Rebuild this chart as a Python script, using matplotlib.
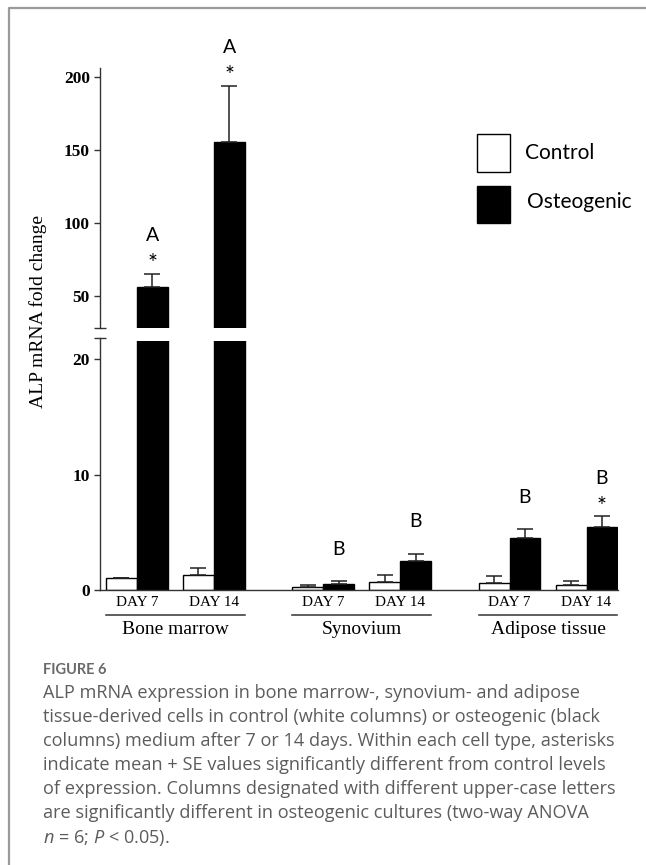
import matplotlib
matplotlib.use("Agg")
import matplotlib.pyplot as plt
import matplotlib.transforms as mtransforms
from matplotlib.patches import Rectangle
from matplotlib.lines import Line2D
import numpy as np

# ---------------- data ----------------
tissues = ["Bone marrow", "Synovium", "Adipose tissue"]
days = ["DAY 7", "DAY 14"]
control_mean = [1.0, 1.3, 0.3, 0.7, 0.65, 0.4]
control_se = [0.0, 0.6, 0.12, 0.63, 0.6, 0.37]
osteo_mean = [56.0, 155.4, 0.5, 2.55, 4.5, 5.5]
osteo_se = [9.0, 38.5, 0.25, 0.6, 0.75, 0.9]
letters = ["A", "A", "B", "B", "B", "B"]
asterisk = [True, True, False, False, False, True]
upper_ticks = [50, 100, 150, 200]
lower_ticks = [0, 10, 20]
legend_labels = ["Control", "Osteogenic"]
ylabel = "ALP mRNA fold change"
caption_title = "FIGURE 6"
caption_lines = [
    "ALP mRNA expression in bone marrow-, synovium- and adipose",
    "tissue-derived cells in control (white columns) or osteogenic (black",
    "columns) medium after 7 or 14 days. Within each cell type, asterisks",
    "indicate mean + SE values significantly different from control levels",
    "of expression. Columns designated with different upper-case letters",
    "are significantly different in osteogenic cultures (two-way ANOVA",
    r"$n$ = 6; $P$ < 0.05).",
]

# ---------------- layout ----------------
W, H = 646, 865
fig = plt.figure(figsize=(W / 100, H / 100), dpi=100)
plt.rcParams["mathtext.fontset"] = "custom"
plt.rcParams["mathtext.it"] = "Open Sans:italic"
plt.rcParams["mathtext.rm"] = "Open Sans"


def fx(x):
    return x / W


def fy(y):
    return 1 - y / H


serif = ["Liberation Serif", "DejaVu Serif"]
sans = ["Lato", "DejaVu Sans"]
cap_font = ["Open Sans", "DejaVu Sans"]

ax_left, ax_right = 100, 617.7
ax_up = fig.add_axes([fx(ax_left), fy(327.7), (ax_right - ax_left) / W, (327.7 - 67.7) / H])
ax_lo = fig.add_axes([fx(ax_left), fy(590), (ax_right - ax_left) / W, (590 - 340.7) / H])
ax_up.set_ylim(28.1, 206.2)
ax_lo.set_ylim(0, 21.61)

n_grp = len(tissues)
group_step = 2.42
w = 0.40
x = np.array([g * group_step + d for g in range(n_grp) for d in range(len(days))])
xlim = (-0.478, x[-1] + w + 0.005)

for ax in (ax_up, ax_lo):
    ax.set_xlim(*xlim)
    ax.bar(x - w / 2, control_mean, w, color="white", edgecolor="black", linewidth=1.0, zorder=2)
    ax.bar(x + w / 2, osteo_mean, w, color="black", edgecolor="black", linewidth=1.0, zorder=2)
    ax.errorbar(x - w / 2, control_mean, yerr=[np.zeros(len(x)), control_se], fmt="none",
                ecolor="#222222", elinewidth=1.1, capsize=5.5, capthick=1.1, zorder=3)
    ax.errorbar(x + w / 2, osteo_mean, yerr=[np.zeros(len(x)), osteo_se], fmt="none",
                ecolor="#222222", elinewidth=1.1, capsize=5.5, capthick=1.1, zorder=3)
    for s in ("top", "right"):
        ax.spines[s].set_visible(False)
    ax.spines["left"].set_color("#333333")
    ax.spines["left"].set_linewidth(1.0)
    ax.set_xticks([])
    ax.tick_params(axis="y", direction="out", length=4.3, width=1.0, pad=3, color="#333333")
    ax.patch.set_alpha(0)

ax_up.spines["bottom"].set_visible(False)
ax_lo.spines["bottom"].set_color("#333333")
ax_lo.spines["bottom"].set_linewidth(1.0)
ax_up.set_yticks(upper_ticks)
ax_lo.set_yticks(lower_ticks)
for ax in (ax_up, ax_lo):
    for lab in ax.get_yticklabels():
        lab.set_fontfamily(serif)
        lab.set_fontweight("bold")
        lab.set_fontsize(12.5)

# break markers
lo_top = 21.87
ax_lo.spines["left"].set_bounds(0, lo_top)
ax_up.plot([xlim[0]], [ax_up.get_ylim()[0]], marker="_", markersize=8, color="#333333",
           mew=1.0, clip_on=False)
ax_lo.plot([xlim[0]], [lo_top], marker="_", markersize=8, color="#333333", mew=1.0, clip_on=False)

# letters and asterisks
for i in range(len(x)):
    top = osteo_mean[i] + osteo_se[i]
    ax = ax_up if top > ax_lo.get_ylim()[1] else ax_lo
    xc = x[i] + w / 2
    if asterisk[i]:
        ax.annotate("*", (xc, top), xytext=(0, 10), textcoords="offset pixels", ha="center",
                    va="center", fontsize=17, family=sans, annotation_clip=False)
        off = 38
    else:
        off = 32
    ax.annotate(letters[i], (xc, top), xytext=(0, off), textcoords="offset pixels", ha="center",
                va="center", fontsize=14, family=sans, annotation_clip=False)

# x labels
blend = mtransforms.blended_transform_factory(ax_lo.transData, fig.transFigure)
for i in range(len(x)):
    ax_lo.text(x[i], fy(602), days[i % len(days)], transform=blend, ha="center", va="center",
               fontsize=11, family=serif)
for g in range(n_grp):
    x0 = x[2 * g] - w
    x1 = x[2 * g + 1] + w
    ax_lo.add_line(Line2D([x0, x1], [fy(615), fy(615)], transform=blend, color="#333333",
                          lw=1.1, clip_on=False))
    ax_lo.text((x0 + x1) / 2, fy(629.5), tissues[g], transform=blend, ha="center", va="center",
               fontsize=14, family=serif)

fig.text(fx(38), fy(311.7), ylabel, rotation=90, ha="center", va="center", fontsize=14,
         family=serif)

# legend
fig.patches.append(Rectangle((fx(476.5), fy(172.3)), 33 / W, 38 / H, transform=fig.transFigure,
                             facecolor="white", edgecolor="black", lw=1.0))
fig.patches.append(Rectangle((fx(476.5), fy(223.3)), 33 / W, 37.3 / H, transform=fig.transFigure,
                             facecolor="black", edgecolor="black", lw=1.0))
fig.text(fx(525), fy(153.3), legend_labels[0], ha="left", va="center", fontsize=15, family=sans)
fig.text(fx(527), fy(201.7), legend_labels[1], ha="left", va="center", fontsize=15, family=sans)

# frame
fig.add_artist(Line2D([fx(8.5), fx(8.5), fx(W)], [0, fy(8.2), fy(8.2)], transform=fig.transFigure,
                      color="#9a9a9a", lw=1.6, solid_capstyle="butt"))

# caption
fig.text(fx(43), fy(670.5), caption_title, ha="left", va="center", fontsize=10.5,
         family=["Lato", "DejaVu Sans"], color="#6a6a6a", fontweight="bold")
for k, line in enumerate(caption_lines):
    fig.text(fx(43), fy(692.5 + 24.2 * k), line, ha="left", va="center", fontsize=13.1,
             family=cap_font, color="#5c5c5c")

fig.savefig("out.png", dpi=100)
